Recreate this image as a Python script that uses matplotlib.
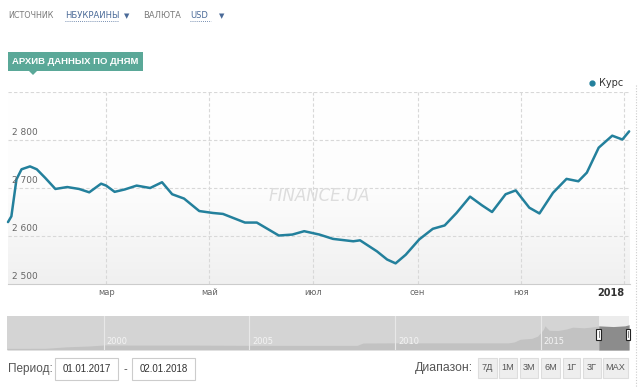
import matplotlib
matplotlib.use('Agg')
import matplotlib.pyplot as plt
import numpy as np
from matplotlib.patches import Rectangle, Polygon
from matplotlib.colors import LinearSegmentedColormap

# курс USD (грн за 100 USD), день года 2017
days = [1, 3, 6, 9, 14, 18, 23, 29, 36, 43, 49, 56, 59, 64, 70, 77, 85, 92, 98, 105,
        114, 122, 128, 141, 148, 161, 169, 176, 185, 193, 205, 209, 219, 225, 230, 236,
        244, 252, 259, 266, 274, 281, 287, 295, 301, 309, 315, 323, 331, 338, 343, 350,
        358, 364, 368]
rates = [2629, 2641, 2718, 2739, 2745, 2739, 2721, 2698, 2702, 2698, 2691, 2709, 2705,
         2692, 2697, 2705, 2700, 2712, 2687, 2678, 2652, 2648, 2646, 2628, 2628, 2601,
         2603, 2610, 2603, 2594, 2589, 2591, 2568, 2551, 2543, 2561, 2593, 2615, 2622,
         2648, 2682, 2664, 2650, 2687, 2695, 2659, 2647, 2690, 2719, 2714, 2732, 2784,
         2809, 2801, 2818]

month_pos = [59, 120, 181, 243, 304, 365]
month_labels = ['мар', 'май', 'июл', 'сен', 'ноя', '2018']
y_ticks = [2500, 2600, 2700, 2800]

# навигатор: вся история
nav_years = [1996.67, 1998.0, 1998.7, 1999.0, 1999.5, 2000.0, 2001.0, 2003.0, 2005.0,
             2008.7, 2008.9, 2009.5, 2010.0, 2013.9, 2014.1, 2014.3, 2014.7, 2014.9,
             2015.1, 2015.15, 2015.3, 2015.6, 2015.9, 2016.1, 2016.5, 2016.9, 2017.0,
             2017.5, 2017.9, 2018.04]
nav_vals = [180, 190, 350, 390, 450, 560, 550, 550, 520, 520, 780, 790, 800, 800, 900,
            1200, 1300, 1550, 2300, 2700, 2200, 2180, 2350, 2550, 2480, 2620, 2700, 2620,
            2700, 2820]
nav_years_lbl = [2000, 2005, 2010, 2015]

W, H = 640, 387
fig = plt.figure(figsize=(6.4, 3.87), dpi=100)

def ax_rect(x0, y0, x1, y1):
    return [x0 / W, 1 - y1 / H, (x1 - x0) / W, (y1 - y0) / H]

# фон в пикселях для элементов интерфейса
bg = fig.add_axes([0, 0, 1, 1], zorder=-1)
bg.set_xlim(0, W)
bg.set_ylim(H, 0)
bg.axis('off')

grey = '#7a7a7a'
blue = '#4a6a98'
bg.text(8, 16, 'ИСТОЧНИК', fontsize=5.8, color=grey, va='center')
bg.text(65, 16, 'НБУКРАИНЫ', fontsize=6, color=blue, va='center')
bg.plot([65, 118], [21, 21], color=blue, lw=0.6, ls=(0, (1, 1.5)))
bg.text(127, 16, '▼', fontsize=5, color=blue, va='center', ha='center')
bg.text(143, 16, 'ВАЛЮТА', fontsize=6, color=grey, va='center')
bg.text(190, 16, 'USD', fontsize=6, color=blue, va='center')
bg.plot([190, 211], [21, 21], color=blue, lw=0.6, ls=(0, (1, 1.5)))
bg.text(222, 16, '▼', fontsize=5, color=blue, va='center', ha='center')

teal = '#5aa898'
bg.add_patch(Rectangle((8, 52), 135, 19, color=teal, lw=0))
bg.add_patch(Polygon([[29, 71], [37, 71], [33, 75]], closed=True, color=teal, lw=0))
bg.text(75.5, 61.5, 'АРХИВ ДАННЫХ ПО ДНЯМ', fontsize=6.8, color='white',
        fontweight='bold', ha='center', va='center',
        family=['Liberation Sans', 'DejaVu Sans'])

line_color = '#23809c'
bg.plot([592], [83], 'o', color=line_color, ms=3.5)
bg.text(599, 83, 'Курс', fontsize=7, color='#333333', va='center')
bg.plot([636, 636], [85, 387], color='#cccccc', lw=0.8, ls=(0, (1, 1.5)))

# нижняя панель
bg.text(8, 369, 'Период:', fontsize=8.5, color='#555555', va='center',
        family=['Liberation Sans', 'DejaVu Sans'])
for x0, x1, t in [(55, 118, '01.01.2017'), (132, 195, '02.01.2018')]:
    bg.add_patch(Rectangle((x0, 358), x1 - x0, 22, facecolor='white',
                           edgecolor='#cccccc', lw=0.8))
    bg.text((x0 + x1) / 2, 369, t, fontsize=7, color='#333333', ha='center',
            va='center', family=['Liberation Sans', 'DejaVu Sans'])
bg.text(125, 369, '-', fontsize=7.5, color='#555555', ha='center', va='center')
bg.text(415, 368, 'Диапазон:', fontsize=8.8, color='#555555', va='center',
        family=['Liberation Sans', 'DejaVu Sans'])
buttons = ['7Д', '1М', '3М', '6М', '1Г', '3Г', 'MAX']
btn_x = [(478, 497), (499, 517), (520, 538), (541, 560), (563, 580), (583, 601), (603, 628)]
for (x0, x1), t in zip(btn_x, buttons):
    bg.add_patch(Rectangle((x0, 358), x1 - x0, 20, facecolor='#eeeeee',
                           edgecolor='#dddddd', lw=0.8))
    bg.text((x0 + x1) / 2, 368, t, fontsize=6.6, color='#555555', ha='center',
            va='center', family=['Liberation Sans', 'DejaVu Sans'])

# основной график
ax = fig.add_axes(ax_rect(8, 92, 630, 284))
ax.set_xlim(1, 368.5)
ax.set_ylim(2500, 2900)
grad = np.linspace(0, 1, 256).reshape(-1, 1)
cmap = LinearSegmentedColormap.from_list('g', ['#ffffff', '#fdfdfd', '#f0f0f0'])
ax.imshow(grad, cmap=cmap, aspect='auto', extent=[0, 1, 0, 1], origin='upper',
          transform=ax.transAxes, zorder=0)
for v in [2600, 2700, 2800, 2900]:
    ax.axhline(v, color='#d8d8d8', lw=0.8, ls=(0, (3, 2)), zorder=1)
for m in month_pos:
    ax.axvline(m, color='#d8d8d8', lw=0.8, ls=(0, (3, 2)), zorder=1)
ax.plot(days, rates, color=line_color, lw=1.8, solid_joinstyle='round',
        solid_capstyle='round', zorder=3, clip_on=False)
for v in y_ticks:
    ax.annotate('{:,}'.format(v).replace(',', ' '), xy=(0.006, v),
                xycoords=ax.get_yaxis_transform(), xytext=(0, 2),
                textcoords='offset points', fontsize=6.5, color='#666666',
                va='bottom', ha='left')
ax.text(0.5, 0.46, 'FINANCE.UA', transform=ax.transAxes, fontsize=12,
        color='#dddddd', style='italic', ha='center', va='center', zorder=2)
for s in ['top', 'left', 'right']:
    ax.spines[s].set_visible(False)
ax.spines['bottom'].set_color('#cccccc')
ax.spines['bottom'].set_linewidth(0.8)
ax.set_yticks([])
ax.set_xticks(month_pos)
ax.set_xticklabels(month_labels, fontsize=6, color='#666666')
ax.tick_params(axis='x', length=0, pad=3)
lbl = ax.get_xticklabels()[-1]
lbl.set_fontweight('bold')
lbl.set_color('#333333')
lbl.set_fontsize(7)
lbl.set_horizontalalignment('right')

# навигатор
nav = fig.add_axes(ax_rect(7, 316, 629, 350))
nav.set_xlim(1996.67, 2018.04)
nav.set_ylim(0, 3800)
nav.set_facecolor('#d4d4d4')
nav.fill_between(nav_years, nav_vals, color='#c2c2c2', lw=0)
nav.axvspan(2017.0, 2018.04, color='#ececec', lw=0, zorder=1)
sel = [i for i, y in enumerate(nav_years) if y >= 2017.0]
nav.fill_between([nav_years[i] for i in sel], [nav_vals[i] for i in sel],
                 color='#8c8c8c', lw=0, zorder=2)
for y in nav_years_lbl:
    nav.axvline(y, color='#e8e8e8', lw=0.8, zorder=3)
    nav.text(y + 0.1, 500, str(y), fontsize=6, color='#f4f4f4', va='bottom',
             ha='left', zorder=4)
for hx in [2017.0, 2018.0]:
    nav.add_patch(Rectangle((hx - 0.08, 1100), 0.16, 1300, facecolor='white',
                            edgecolor='#222222', lw=0.8, zorder=5, clip_on=False))
    nav.plot([hx, hx], [1400, 2100], color='#666666', lw=0.6, zorder=6, clip_on=False)
nav.set_xticks([])
nav.set_yticks([])
for s in nav.spines.values():
    s.set_visible(False)

fig.savefig('out.png', dpi=100, facecolor='white')
